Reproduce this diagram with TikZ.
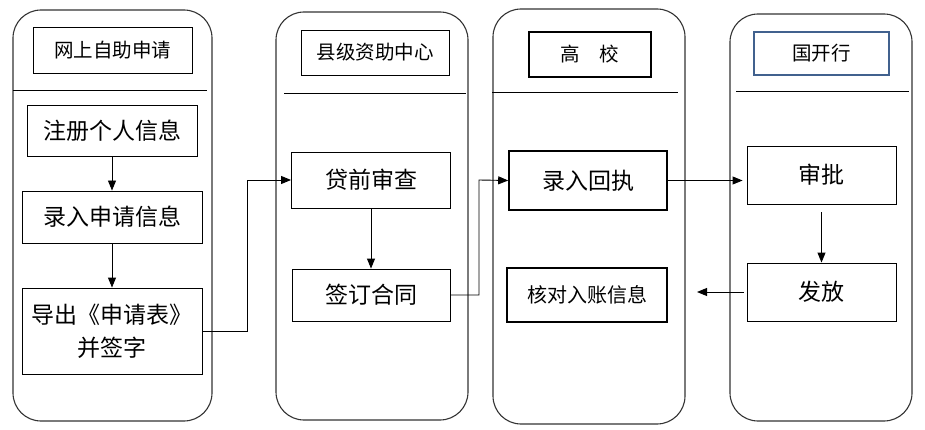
\documentclass[tikz,border=0pt]{standalone}
\usepackage{fontspec}
\newfontfamily\cjk{Noto Sans CJK SC}
\usepackage{tikz}
\usetikzlibrary{graphs}
\usetikzlibrary{arrows.meta}
\usepackage{xcolor}

\definecolor{bankblue}{RGB}{65,97,142}

\tikzset{
  lane/.style={draw=black!80, line width=1.1pt, rounded corners=28pt},
  head/.style={draw, line width=0.9pt, font=\cjk\fontsize{19.5}{22}\selectfont},
  stepbox/.style={draw, line width=0.9pt, align=center, font=\cjk\fontsize{23}{33}\selectfont},
  sep/.style={line width=0.9pt}
}

\begin{document}
\begin{tikzpicture}[x=1pt, y=-1pt, >={Triangle[length=10pt,width=8pt]}, line width=0.9pt]
        \useasboundingbox (0,0) rectangle (925,430);

        % lanes
        \node[lane, minimum width=199pt, minimum height=411pt] (lane1) at (112.5, 215.5) {};
        \node[lane, minimum width=192pt, minimum height=408pt] (lane2) at (372, 216)     {};
        \node[lane, minimum width=192pt, minimum height=415pt] (lane3) at (589, 216.5)   {};
        \node[lane, minimum width=182pt, minimum height=407pt] (lane4) at (821, 217.5)   {};

        % headers
        \node[head, minimum width=159pt, minimum height=46pt] (h1) at (112.5, 50) {网上自助申请};
        \node[head, minimum width=148pt, minimum height=45pt] (h2) at (375, 52.5) {县级资助中心};
        \node[head, line width=1.6pt, minimum width=122pt, minimum height=45pt] (h3) at (590, 54.5) {高\quad 校};
        \node[head, draw=bankblue, line width=1.6pt, minimum width=135pt, minimum height=43pt] (h4) at (821.5, 53.5) {国开行};

        \draw[sep] (13, 90)  -- (207, 90);
        \draw[sep] (284, 93) -- (466, 93);
        \draw[sep] (492, 92) -- (678, 92);
        \draw[sep] (736, 91) -- (909, 91);

        % steps
        \node[stepbox, minimum width=170pt, minimum height=51pt] (reg)    at (112, 130.5) {注册个人信息};
        \node[stepbox, minimum width=180pt, minimum height=52pt] (input)  at (112, 217)   {录入申请信息};
        \node[stepbox, minimum width=180pt, minimum height=86pt] (export) at (112, 331)   {导出《申请表》\\并签字};

        \node[stepbox, minimum width=159pt, minimum height=56pt] (review) at (371, 180) {贷前审查};
        \node[stepbox, minimum width=158pt, minimum height=52pt] (sign)   at (371, 295) {签订合同};

        \node[stepbox, line width=1.6pt, minimum width=158pt, minimum height=59pt] (receipt) at (588, 180.5) {录入回执};
        \node[stepbox, line width=1.6pt, minimum width=160pt, minimum height=54pt,
              font=\cjk\fontsize{20}{24}\selectfont] (check) at (587, 295) {核对入账信息};

        \node[stepbox, minimum width=149pt, minimum height=58pt] (approve) at (821.5, 175) {审批};
        \node[stepbox, minimum width=149pt, minimum height=58pt] (issue)   at (821.5, 292) {发放};

        \coordinate (k1) at (247, 180);
        \coordinate (k2) at (479, 180);
        \coordinate (k3) at (697, 292);

        \graph {(reg)     ->                   (input)};
        \graph {(input)   ->                   (export)};
        \graph {(review)  ->                   (sign)};
        \graph {(approve) ->[shorten <=8pt]    (issue)};

        \draw[->] (export.east) -| (k1) -- (review.west);
        \draw[->] (sign.east) -| (k2) -- (receipt.west);
        \draw[->, shorten >=4pt] (receipt.east) -- (receipt.east -| approve.west);
        \draw[->, shorten <=3pt] (issue.west) -- (k3);
    \end{tikzpicture}
\end{document}
